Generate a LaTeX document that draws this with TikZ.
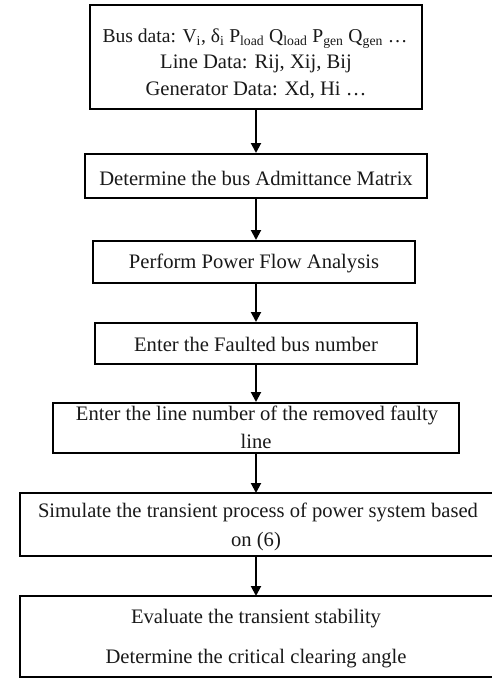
\documentclass[tikz,border=0pt]{standalone}
\usepackage{fontspec}
\setmainfont{Liberation Serif}
\usetikzlibrary{arrows.meta}
\begin{document}
\begin{tikzpicture}[x=1pt,y=-1pt,
  box/.style={draw=black, line width=2pt, inner sep=0pt, fill=white},
  openbox/.style={draw=none, inner sep=0pt, outer sep=0pt},
  edge/.style={line width=2pt},
  txt/.style={anchor=base, inner sep=0pt, font=\fontsize{20.6}{24}\selectfont, text=black!90},
  arr/.style={line width=2pt, -{Triangle[width=10pt,length=10pt]}}]
\useasboundingbox (0,0) rectangle (492,678);
% boxes
\node[box, minimum width=332pt, minimum height=104pt] (b1) at (256,57) {};
\node[box, minimum width=342pt, minimum height=44pt] (b2) at (256,176) {};
\node[box, minimum width=322pt, minimum height=42pt] (b3) at (254,262) {};
\node[box, minimum width=322pt, minimum height=41pt] (b4) at (256,343.5) {};
\node[box, minimum width=406pt, minimum height=50pt] (b5) at (256,428) {};
\node[openbox, minimum width=472pt, minimum height=63pt] (b6) at (256,524.5) {};
\node[openbox, minimum width=472pt, minimum height=81pt] (b7) at (256,636.5) {};
\draw[edge] (b6.north east) -- (b6.north west) -- (b6.south west) -- (b6.south east);
\draw[edge] (b7.north east) -- (b7.north west) -- (b7.south west) -- (b7.south east);
% texts
\node[txt, font=\fontsize{19.6}{24}\selectfont] (t1a) at (255,42) {Bus data: V\textsubscript{i}, δ\textsubscript{i} P\textsubscript{load} Q\textsubscript{load} P\textsubscript{gen} Q\textsubscript{gen} …};
\node[txt] (t1b) at (256,68) {Line Data: Rij, Xij, Bij};
\node[txt] (t1c) at (256,95) {Generator Data: Xd, Hi …};
\node[txt] (t2) at (256,185) {Determine the bus Admittance Matrix};
\node[txt] (t3) at (254,268) {Perform Power Flow Analysis};
\node[txt] (t4) at (256,351) {Enter the Faulted bus number};
\node[txt] (t5a) at (257,420) {Enter the line number of the removed faulty};
\node[txt] (t5b) at (256,448) {line};
\node[txt] (t6a) at (258,517) {Simulate the transient process of power system based};
\node[txt] (t6b) at (256,546) {on (6)};
\node[txt] (t7a) at (256,623) {Evaluate the transient stability};
\node[txt] (t7b) at (256,663) {Determine the critical clearing angle};
% arrows
\draw[arr] (b1.south) -- (b2.north);
\draw[arr] (b2.south) -- (b2.south |- b3.north);
\draw[arr] (b3.south -| b4.north) -- (b4.north);
\draw[arr] (b4.south) -- (b5.north);
\draw[arr] (b5.south) -- (b6.north);
\draw[arr] (b6.south) -- (b7.north);
\end{tikzpicture}
\end{document}
